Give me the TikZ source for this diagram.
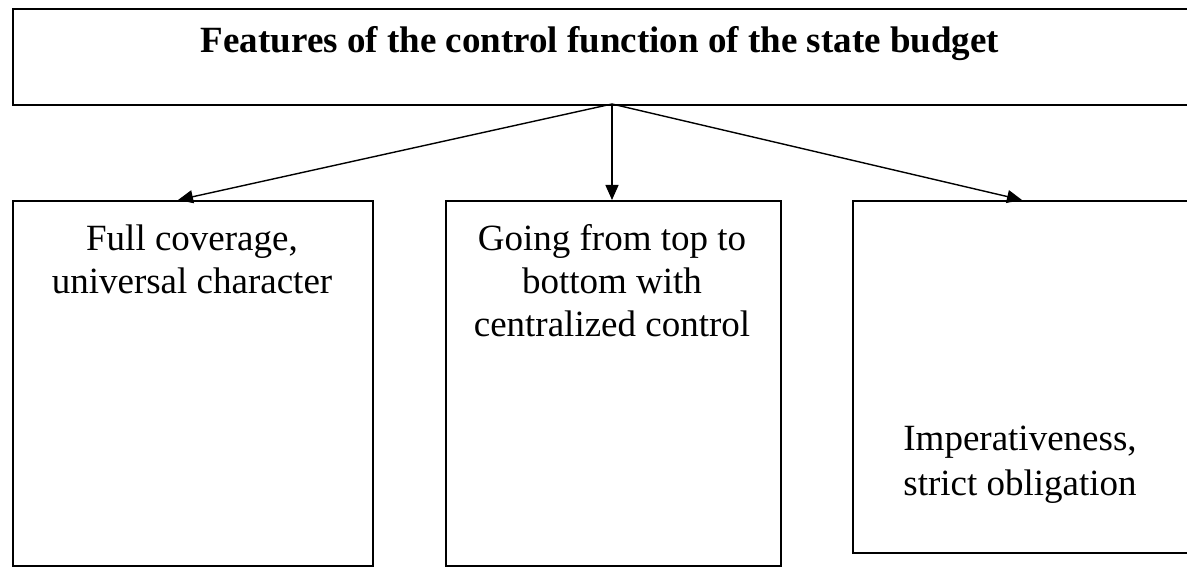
\documentclass[tikz,border=0pt]{standalone}
\usepackage{fontspec}
\setmainfont{Liberation Serif}
\usetikzlibrary{arrows.meta}
\begin{document}
\begin{tikzpicture}[x=1pt,y=-1pt,
  box/.style={draw=black, line width=1.6pt, rectangle, inner sep=0pt, anchor=north west},
  txt/.style={align=center, inner sep=0pt, anchor=base, font=\fontsize{37}{44}\selectfont},
  conn/.style={line width=1.4pt, -{Triangle[length=15pt,width=13pt]}}]
\useasboundingbox (0,0) rectangle (1187,567);
\clip (0,0) rectangle (1187,567);
\node[box, minimum width=1200pt, minimum height=96pt] (top) at (12,8) {};
\node[txt, font=\bfseries\fontsize{37}{44}\selectfont] (title) at (600,53) {Features of the control function of the state budget};
\node[box, minimum width=360pt, minimum height=365pt] (b1) at (12,200) {};
\node[box, minimum width=335pt, minimum height=365pt] (b2) at (445,200) {};
\node[box, minimum width=400pt, minimum height=352pt] (b3) at (852,200) {};
\node[txt] (t1a) at (192,250) {Full coverage,};
\node[txt] (t1b) at (192,293) {universal character};
\node[txt] (t2a) at (612,250) {Going from top to};
\node[txt] (t2b) at (612,293) {bottom with};
\node[txt] (t2c) at (612,336) {centralized control};
\node[txt] (t3a) at (1020,450) {Imperativeness,};
\node[txt] (t3b) at (1020,495) {strict obligation};
\coordinate (o) at (612,104);
\coordinate (e1) at (178,200);
\coordinate (e2) at (612,200);
\coordinate (e3) at (1022,200);
\draw[conn] (o) -- (e1);
\draw[conn] (o) -- (e2);
\draw[conn] (o) -- (e3);
\end{tikzpicture}
\end{document}
